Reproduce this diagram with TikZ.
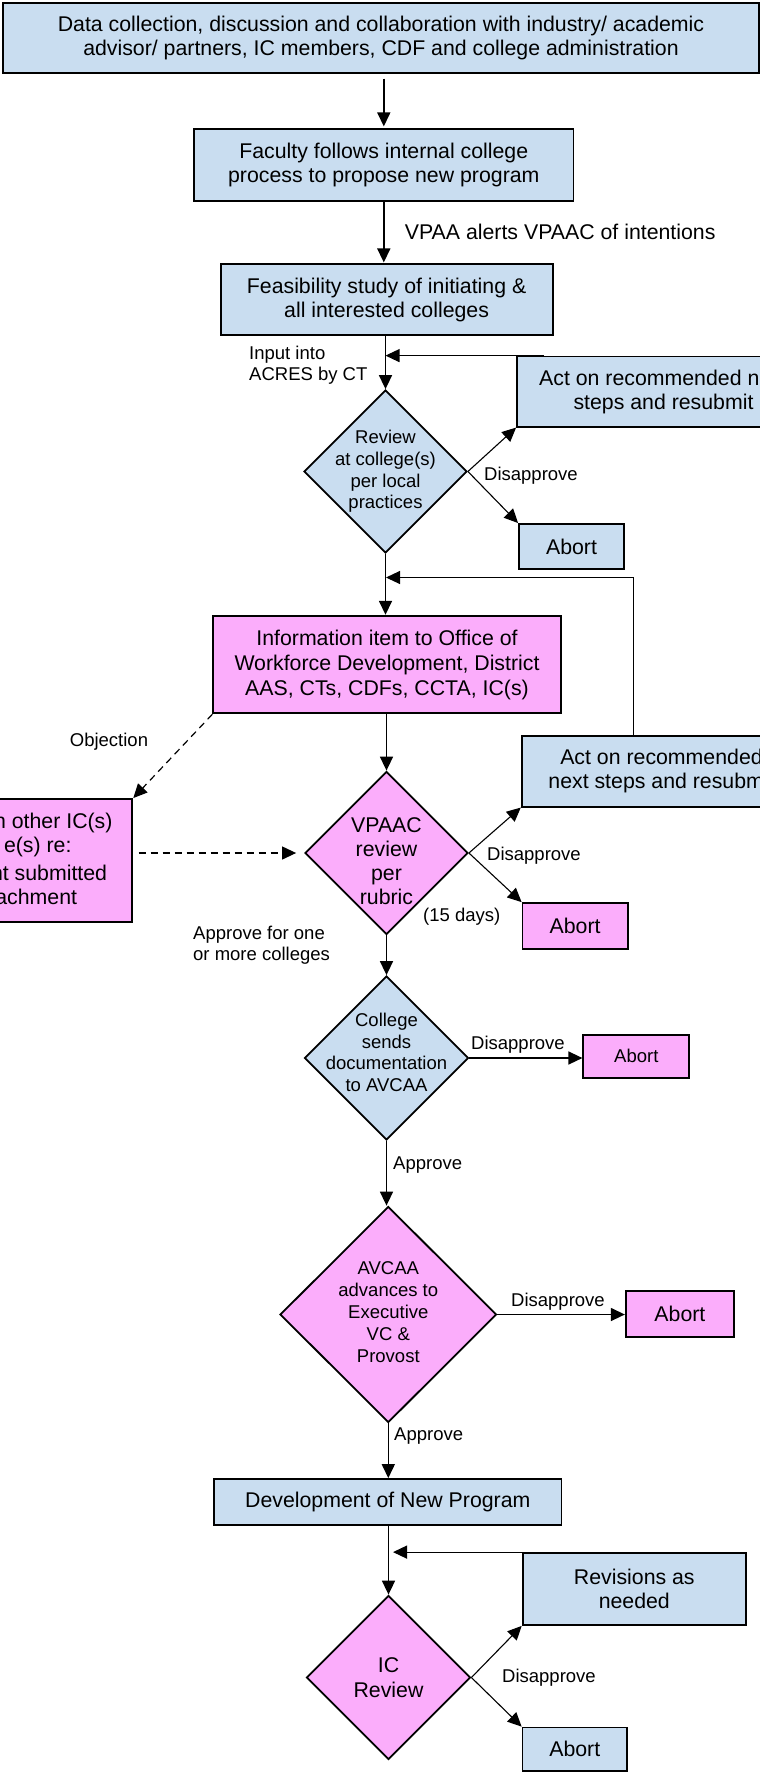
\documentclass[tikz,border=0pt]{standalone}
\usepackage{fontspec}
\setmainfont{Liberation Sans}
\usetikzlibrary{arrows.meta,shapes.geometric}
\definecolor{boxblue}{HTML}{C9DDF0}
\definecolor{boxpink}{HTML}{FBADFB}
\newcommand\fsbig{\fontsize{21.3}{24}\selectfont}
\newcommand\fssmall{\fontsize{18.5}{21.7}\selectfont}
\begin{document}
\begin{tikzpicture}[x=1pt,y=-1pt,
  box/.style={draw, line width=1.8pt, rectangle, inner sep=0pt, align=center, font=\fsbig},
  bbox/.style={box, fill=boxblue},
  pbox/.style={box, fill=boxpink},
  dia/.style={draw, line width=1.8pt, diamond, aspect=1, inner sep=0pt},
  dtxt/.style={font=\fssmall, align=center, inner sep=0pt},
  lbl/.style={font=\fssmall, inner sep=0pt},
  flow/.style={line width=1.6pt, -{Triangle[length=14pt,width=13pt]}},
  thinflow/.style={line width=1.1pt, -{Triangle[length=14pt,width=13pt]}},
  objflow/.style={line width=1.2pt, dash pattern=on 7pt off 5pt, -{Triangle[length=14pt,width=13pt]}},
]
\useasboundingbox (0,0) rectangle (760,1772);
\clip (0,0) rectangle (760,1772);

% ---- boxes and decisions ----
\node[bbox, minimum width=756pt, minimum height=70pt] (top) at (381,38.3)
  {Data collection, discussion and collaboration with industry/ academic\\advisor/ partners, IC members, CDF and college administration};
\node[bbox, minimum width=379.5pt, minimum height=71.4pt] (fac) at (383.8,165)
  {Faculty follows internal college\\process to propose new program};
\node[bbox, minimum width=332pt, minimum height=70.7pt] (feas) at (386.6,299.7)
  {Feasibility study of initiating \&\\all interested colleges};
\node[dia, fill=boxblue, minimum width=163pt, minimum height=163pt,
  label={[dtxt]center:{Review\\at college(s)\\per local\\practices}}] (d1) at (385.5,471.5) {};
\node[bbox, minimum width=293pt, minimum height=70.2pt] (act1) at (663.5,391.6)
  {Act on recommended next\\steps and resubmit};
\node[bbox, minimum width=105pt, minimum height=45.3pt] (ab1) at (571.5,546.6) {Abort};

\node[pbox, font=\fontsize{21.3}{25}\selectfont, minimum width=347.4pt, minimum height=97.6pt] (info) at (387,664.5)
  {Information item to Office of\\Workforce Development, District\\AAS, CTs, CDFs, CCTA, IC(s)};
\node[dia, fill=boxpink, minimum width=163pt, minimum height=163pt,
  label={[dtxt, font=\fsbig, yshift=-8pt]center:{VPAAC\\review\\per\\rubric}}] (vp) at (386.5,853) {};
\node[bbox, minimum width=279.6pt, minimum height=70.7pt] (act2) at (661.5,771.3)
  {Act on recommended\\next steps and resubmit};
\node[pbox, minimum width=105.2pt, minimum height=46pt] (ab2) at (575.1,926) {Abort};
\node[pbox, minimum width=142.3pt, minimum height=122.7pt] (ic2) at (61.2,860.3) {};
\node[font=\fsbig, anchor=east, inner sep=0pt] (l1) at (112.7,823) {n other IC(s)};
\node[font=\fsbig, anchor=east, inner sep=0pt] (l2) at (71.7,847) {e(s) re:};
\node[font=\fsbig, anchor=east, inner sep=0pt] (l3) at (107.3,873) {nt submitted};
\node[font=\fsbig, anchor=east, inner sep=0pt] (l4) at (77.3,897.3) {achment};

\node[dia, fill=boxblue, minimum width=164pt, minimum height=164pt,
  label={[dtxt, yshift=5.5pt]center:{College\\sends\\documentation\\to AVCAA}}] (col) at (386.5,1058) {};
\node[pbox, font=\fssmall, minimum width=106pt, minimum height=42.7pt] (ab3) at (636.3,1056.3) {Abort};

\node[dia, fill=boxpink, minimum width=216.5pt, minimum height=216pt,
  label={[dtxt, font=\fontsize{18.5}{21.9}\selectfont, yshift=2.5pt]center:{AVCAA\\advances to\\Executive\\VC \&\\Provost}}] (av) at (388.3,1314.5) {};
\node[pbox, minimum width=108.3pt, minimum height=45.7pt] (ab4) at (679.9,1313.9) {Abort};

\node[bbox, minimum width=347.5pt, minimum height=46pt] (dev) at (387.8,1502) {Development of New Program};
\node[dia, fill=boxpink, minimum width=164pt, minimum height=164pt,
  label={[dtxt, font=\fontsize{21.3}{25}\selectfont]center:{IC\\Review}}] (icr) at (388.5,1677.5) {};
\node[bbox, minimum width=223.4pt, minimum height=72pt] (rev) at (634.3,1589) {Revisions as\\needed};
\node[bbox, minimum width=104.5pt, minimum height=43.5pt] (ab5) at (574.8,1749.3) {Abort};

% ---- main flow ----
\draw[flow, shorten <=4.5pt, shorten >=2pt] (fac.north |- top.south) -- (fac.north);
\draw[flow, shorten >=1pt] (fac.south) -- (fac.south |- feas.north);
\draw[flow] (d1.north |- feas.south) -- (d1.north);
\draw[flow] (d1.south) -- (d1.south |- info.north);
\draw[flow] (vp.north |- info.south) -- (vp.north);
\draw[flow] (vp.south) -- (vp.south |- col.north);
\draw[flow] (col.south) -- (col.south |- av.north);
\draw[flow] (av.south) -- (av.south |- dev.north);
\draw[flow] (icr.north |- dev.south) -- (icr.north);

% ---- decisions branching right ----
\draw[thinflow] (d1.east) -- (act1.south west);
\draw[thinflow] (d1.east) -- (ab1.north west);
\draw[thinflow] (vp.east) -- (act2.south west);
\draw[thinflow] (vp.east) -- (ab2.north west);
\draw[flow, line width=1.4pt] (col.east) -- (col.east -| ab3.west);
\draw[flow, line width=1.4pt] (av.east) -- (av.east -| ab4.west);
\draw[thinflow] (icr.east) -- (rev.south west);
\draw[thinflow] (icr.east) -- (ab5.north west);

% ---- resubmission loops ----
\coordinate (j2) at (386,577.5);
\draw[thinflow] ([xshift=28pt]act1.north west) -- (d1.north |- act1.north);
\draw[thinflow] ([xshift=112.3pt]act2.north west) |- (j2);
\draw[thinflow, shorten >=4.5pt] ([xshift=63pt]rev.north west) -- (icr.north |- rev.north);

% ---- objection path ----
\draw[objflow] (info.south west) -- (ic2.north east);
\draw[objflow, shorten <=5.4pt, shorten >=8pt] (ic2.east |- vp.west) -- (vp.west);

% ---- labels ----
\node[font=\fsbig, anchor=west, inner sep=0pt] (t1) at (404.7,231.7) {VPAA alerts VPAAC of intentions};
\node[lbl, anchor=west, align=left, font=\fontsize{18.5}{20.7}\selectfont] (t2) at (249,365.5) {Input into\\ACRES by CT};
\node[lbl, anchor=west] (t3) at (484,475.7) {Disapprove};
\node[lbl] (t4) at (109,742) {Objection};
\node[lbl, anchor=west] (t5) at (487,856) {Disapprove};
\node[lbl, anchor=west] (t6) at (423,917) {(15 days)};
\node[lbl, anchor=west, align=left, font=\fontsize{18.5}{20.7}\selectfont] (t7) at (193,945.3) {Approve for one\\or more colleges};
\node[lbl, anchor=west] (t8) at (471,1045) {Disapprove};
\node[lbl, anchor=west] (t9) at (393,1165) {Approve};
\node[lbl, anchor=west] (t10) at (511,1301.7) {Disapprove};
\node[lbl, anchor=west] (t11) at (394,1436) {Approve};
\node[lbl, anchor=west] (t12) at (502,1677.7) {Disapprove};
\end{tikzpicture}
\end{document}
